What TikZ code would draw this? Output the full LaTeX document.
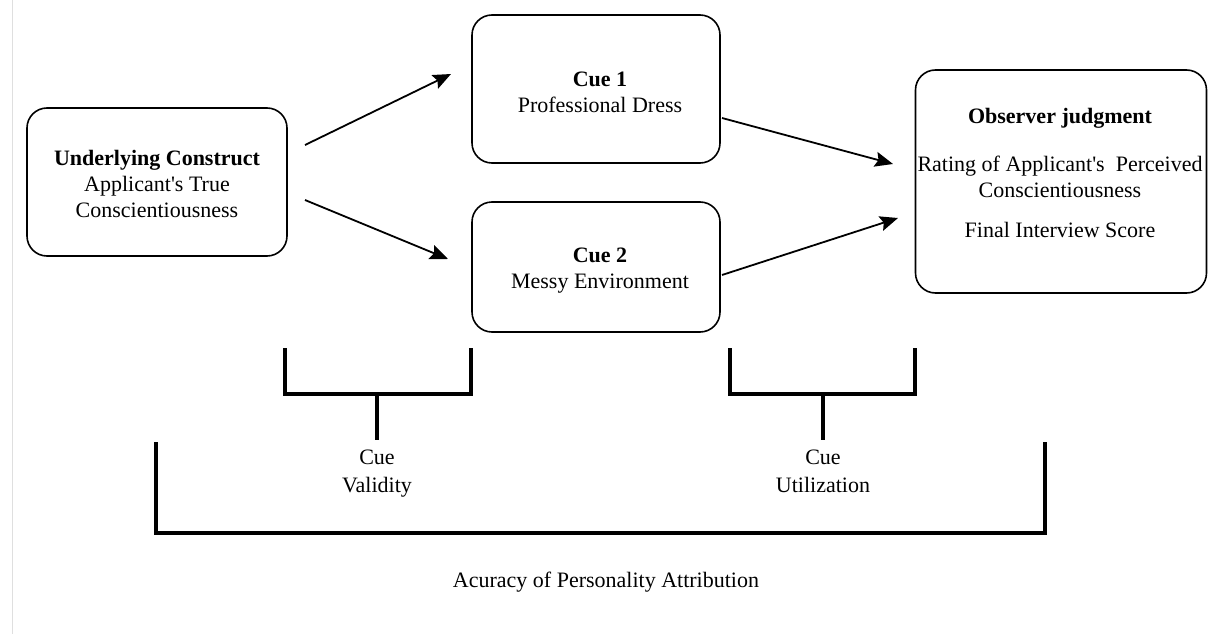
\documentclass[tikz,border=0pt]{standalone}
\usepackage{fontspec}
\setmainfont{Liberation Serif}[Ligatures=TeXOff]
\usetikzlibrary{arrows.meta}
\begin{document}
\begin{tikzpicture}[x=1pt,y=-1pt,
  box/.style={draw=black,line width=1.6pt,rounded corners=20pt,align=center,inner sep=0pt},
  txt/.style={align=center,inner sep=0pt,font=\fontsize{22}{26}\selectfont},
  lbl/.style={align=center,inner sep=0pt,font=\fontsize{22}{28}\selectfont},
  arr/.style={line width=1.8pt,-{Stealth[length=18pt,width=15pt,inset=3pt]}},
  brk/.style={line width=3.5pt,line cap=butt}]
\useasboundingbox (0,0) rectangle (1209,634);
\fill[white] (0,0) rectangle (1209,634);
\draw[gray!25,line width=1pt] (12,0) -- (12,634);
% boxes
\node[box,minimum width=260pt,minimum height=148pt] (uc) at (157,182) {};
\node[box,minimum width=248pt,minimum height=148pt] (c1) at (596,89) {};
\node[box,minimum width=248pt,minimum height=130pt] (c2) at (596,267) {};
\node[box,minimum width=291pt,minimum height=223pt] (oj) at (1061,181.5) {};
% texts
\node[txt] (ucT) at (157,184) {\textbf{Underlying Construct}\\Applicant's True\\Conscientiousness};
\node[txt] (c1T) at (600,92) {\textbf{Cue 1}\\Professional Dress};
\node[txt] (c2T) at (600,271) {\textbf{Cue 2}\\Messy Environment};
\node[txt] (ojT) at (1060,172.5) {\textbf{Observer judgment}\\[22pt]Rating of Applicant's\ \ Perceived\\Conscientiousness\\[14pt]Final Interview Score};
% arrows
\coordinate (a1s) at (305,145); \coordinate (a1e) at (451,74);
\coordinate (a2s) at (305,200); \coordinate (a2e) at (448,259);
\coordinate (a3s) at (722,118); \coordinate (a3e) at (893,164);
\coordinate (a4s) at (722,275); \coordinate (a4e) at (898,218);
\draw[arr] (a1s) -- (a1e);
\draw[arr] (a2s) -- (a2e);
\draw[arr] (a3s) -- (a3e);
\draw[arr] (a4s) -- (a4e);
% brackets
\draw[brk] (285,348) -- (285,394) -- (471,394) -- (471,348);
\draw[brk] (377,394) -- (377,440);
\draw[brk] (730,348) -- (730,394) -- (915,394) -- (915,348);
\draw[brk] (823,394) -- (823,440);
\draw[brk] (156,442) -- (156,533) -- (1045,533) -- (1045,442);
% labels
\node[lbl] (cv) at (377,473) {Cue\strut\\Validity\strut};
\node[lbl] (cu) at (823,473) {Cue\strut\\Utilization\strut};
\node[txt] (acc) at (606,582) {Acuracy of Personality Attribution};
\end{tikzpicture}
\end{document}
